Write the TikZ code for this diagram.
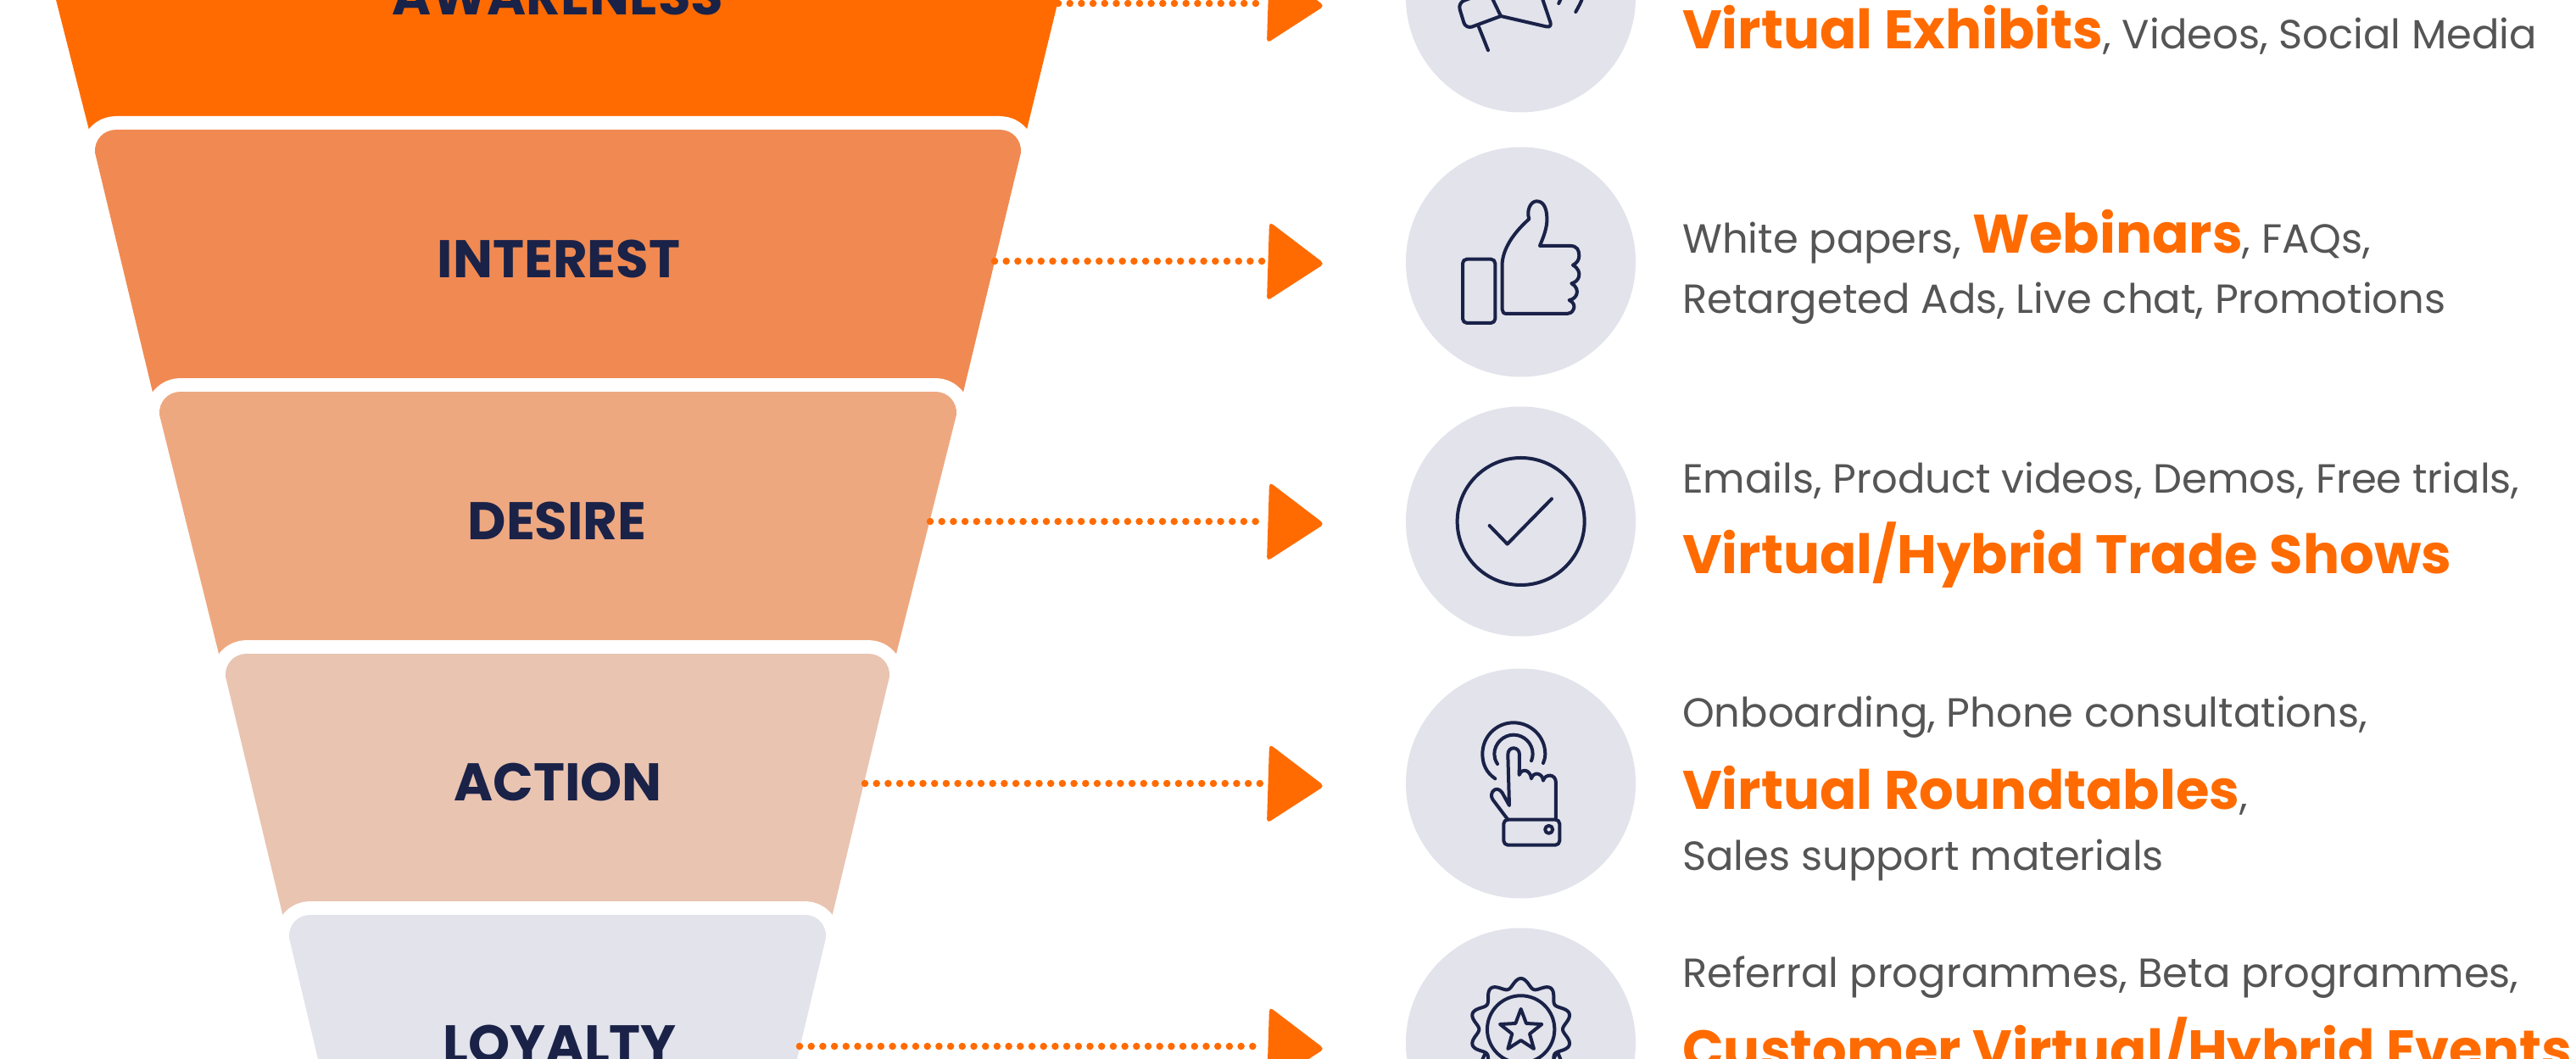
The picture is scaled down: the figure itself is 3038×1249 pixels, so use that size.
\documentclass[tikz,border=0pt]{standalone}
\usepackage{fontspec}
\setmainfont{Poppins}
\definecolor{brand}{HTML}{FF6B00}
\definecolor{band2}{HTML}{F08A52}
\definecolor{band3}{HTML}{EEA880}
\definecolor{band4}{HTML}{E9C4B1}
\definecolor{band5}{HTML}{E2E3EB}
\definecolor{navy}{HTML}{1A2248}
\definecolor{ink}{HTML}{555555}
\newcommand{\hilite}[1]{{\bfseries\color{brand}\fontsize{64}{70}\selectfont #1}}
\newcommand{\bandpath}[6]{%
  (#5,\bandbot) -- (#3,#2+27) .. controls (#3-1,#2+12) and (#3+10,#2) .. (#3+25,#2)
    -- (#4-25,#2) .. controls (#4-10,#2) and (#4+1,#2+12) .. (#4,#2+27) -- (#6,\bandbot) -- cycle}
\newcommand{\bandshape}[6]{% colour, top y, left, right, bottom left, bottom right ; bottom y is \bandbot
  \path[draw=white,line width=32pt,line join=round,fill=white] \bandpath{#1}{#2}{#3}{#4}{#5}{#6};
  \path[fill=#1] \bandpath{#1}{#2}{#3}{#4}{#5}{#6};
}
\tikzset{
  stagelabel/.style={anchor=base,inner sep=0pt,text=navy,font=\bfseries\fontsize{62.5}{70}\selectfont},
  copyline/.style={anchor=base west,inner sep=0pt,text=ink,font=\fontsize{48}{52}\selectfont},
  dots/.style={draw=brand,line width=8.5pt,line cap=round,dash pattern=on 0pt off 13.7pt},
  headtip/.style={fill=brand,rounded corners=5pt},
  disc/.style={fill=band5},
  icon/.style={draw=navy,line width=4pt,line cap=round,line join=round}
}
\begin{document}
\begin{tikzpicture}[x=1pt,y=-1pt]
\path[use as bounding box,clip] (0,0) rectangle (3038,1249);
\fill[white] (0,0) rectangle (3038,1249);
% funnel
\fill[brand] (61,-20) -- (108,165) -- (1208,165) -- (1253,-20) -- cycle;
\def\bandbot{475}\bandshape{band2}{153}{112}{1204}{183}{1133}
\def\bandbot{785}\bandshape{band3}{462}{188}{1128}{261.5}{1053.5}
\def\bandbot{1090}\bandshape{band4}{771}{266}{1049}{336}{979}
\def\bandbot{1270}\bandshape{band5}{1079}{341}{974}{380}{935}
% stage labels
\node[stagelabel] (awareness) at (658,18) {AWARENESS};
\node[stagelabel] (interest) at (659,327) {INTEREST};
\node[stagelabel] (desire) at (657,636) {DESIRE};
\node[stagelabel] (action) at (658,944) {ACTION};
\node[stagelabel] (loyalty) at (660,1253) {LOYALTY};
% connectors
\foreach \name/\sx/\y in {a/1248/4,b/1173/308,c/1097/615,d/1020/924,e/943/1234}{
  \coordinate (\name from) at (\sx,\y);
  \coordinate (\name to) at (1490,\y);
  \draw[dots] (\name from) -- (\name to);
  \fill[headtip] (1497,\y-46.5) -- (1562,\y+3) -- (1494,\y+47) -- cycle;
}
% discs
\foreach \name/\y in {da/-3,db/309,dc/615,dd/924,de/1230}{
  \node[disc,circle,minimum size=271pt,inner sep=0pt] (\name) at (1793.5,\y) {};
}
% megaphone and thumb
\begin{scope}[shift={(1600,0)},x=0.3333pt,y=-0.3333pt]
  \draw[icon,rounded corners=8pt] (432,-17) -- (358,10) -- (386,103) -- (510,57);
  \draw[icon] (480,-5) -- (510,57);
  \draw[icon,rounded corners=7pt] (510,57) -- (692,99) -- (652,-20);
  \draw[icon] (432,95) -- (465,178);
  \draw[icon] (715,12) -- (724,-8);
  \draw[icon] (775,42) .. controls (787,20) and (793,10) .. (799,-8);
  \draw[icon,rounded corners=5pt] (375,917) rectangle (490,1143);
  \draw[icon] (610,775) .. controls (600,745) and (615,712) .. (637,712)
    .. controls (665,712) and (675,745) .. (673,785)
    .. controls (671,815) and (658,845) .. (648,870) -- (755,870)
    .. controls (780,870) and (787,885) .. (787,905)
    .. controls (787,920) and (778,932) .. (765,938)
    .. controls (785,950) and (790,965) .. (786,980)
    .. controls (782,992) and (772,1000) .. (760,1003)
    .. controls (778,1012) and (783,1030) .. (778,1042)
    .. controls (774,1052) and (765,1060) .. (752,1062)
    .. controls (770,1070) and (772,1085) .. (767,1095)
    .. controls (762,1105) and (755,1110) .. (745,1110)
    -- (530,1110) .. controls (520,1110) and (515,1104) .. (515,1095)
    -- (515,930) .. controls (520,870) and (565,815) .. (610,775) -- cycle;
\end{scope}
% check
\begin{scope}[shift={(1600,460)},x=0.3333pt,y=-0.3333pt]
  \draw[icon] (581,465) circle[radius=75pt];
  \draw[icon] (470,480) -- (533,545) -- (690,385);
\end{scope}
% pointing hand
\begin{scope}[shift={(1600,770)},x=0.3333pt,y=-0.3333pt]
  \draw[icon] (490,445) .. controls (460,425) and (445,395) .. (445,358)
     .. controls (445,295) and (495,247) .. (555,247)
     .. controls (615,247) and (667,295) .. (667,358) .. controls (667,370) and (664,380) .. (660,390);
  \draw[icon] (498,393) .. controls (490,380) and (487,370) .. (487,358)
     .. controls (487,320) and (520,290) .. (555,290)
     .. controls (592,290) and (623,320) .. (623,358) .. controls (623,366) and (621,375) .. (618,382);
  \draw[icon] (535,590) -- (482,520) .. controls (465,495) and (495,465) .. (515,495) -- (540,540)
    -- (535,360) .. controls (535,345) and (545,337) .. (555,337)
    .. controls (567,337) and (576,347) .. (576,360) -- (575,432)
    .. controls (585,405) and (615,415) .. (618,445)
    .. controls (625,418) and (658,425) .. (660,452)
    .. controls (665,428) and (705,425) .. (705,460) -- (705,590);
  \draw[icon,rounded corners=5pt] (520,590) rectangle (718,680);
  \draw[icon] (680,625) circle[radius=4.5pt];
\end{scope}
% badge
\begin{scope}[shift={(1680,1130)},x=0.3333pt,y=-0.3333pt]
  \draw[icon] (200,370) -- (218,330) -- (234,370);
  \draw[icon] (450,370) -- (470,330) -- (486,370);
  \draw[icon,fill=band5,smooth,samples=241,domain=0:360,variable=\t]
    plot ({341+(164+16*cos(10*\t))*sin(\t)},{252-(164+16*cos(10*\t))*cos(\t)});
  \draw[icon] (341,252) circle[radius=39.7pt];
  \draw[icon] (341,180) -- (360,231) -- (415,234) -- (372,268) -- (387,321) -- (341,291)
    -- (295,321) -- (310,268) -- (267,234) -- (322,231) -- cycle;
\end{scope}
% copy
\node[copyline] (t1) at (1984,57.5) {\hilite{Virtual Exhibits}, Videos, Social Media};
\node[copyline] (t2a) at (1984,298.5) {White papers, \hilite{Webinars}, FAQs,};
\node[copyline] (t2b) at (1984,369.5) {Retargeted Ads, Live chat, Promotions};
\node[copyline] (t3a) at (1984,581) {Emails, Product videos, Demos, Free trials,};
\node[copyline] (t3b) at (1984,676.5) {\hilite{Virtual/Hybrid Trade Shows}};
\node[copyline] (t4a) at (1984,857.5) {Onboarding, Phone consultations,};
\node[copyline] (t4b) at (1984,954) {\hilite{Virtual Roundtables},};
\node[copyline] (t4c) at (1984,1026) {Sales support materials};
\node[copyline] (t5a) at (1984,1164.5) {Referral programmes, Beta programmes,};
\node[copyline] (t5b) at (1984,1260) {\hilite{Customer Virtual/Hybrid Events}};
\end{tikzpicture}
\end{document}
